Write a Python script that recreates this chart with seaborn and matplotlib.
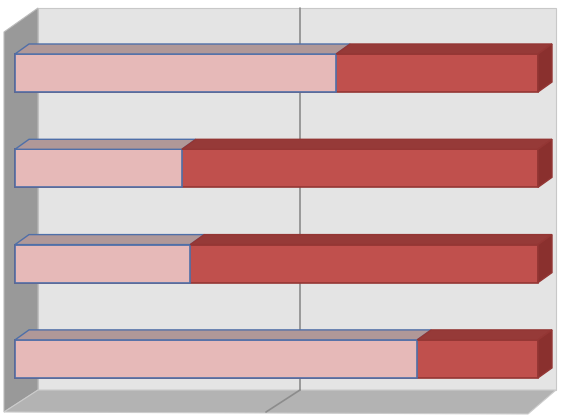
import numpy as np
import pandas as pd
import matplotlib
matplotlib.use("Agg")
import matplotlib.pyplot as plt
import seaborn as sns
from matplotlib.patches import Polygon

categories = ["A", "B", "C", "D"]
part1 = [0.614, 0.319, 0.335, 0.769]
part2 = [0.386, 0.681, 0.665, 0.231]

sns.set_theme(style="white")
fig = plt.figure(figsize=(5.7, 4.19), dpi=100)

# background walls, in pixel coords
bg = fig.add_axes([0, 0, 1, 1])
bg.set_xlim(0, 570)
bg.set_ylim(419, 0)
bg.axis("off")
bg.add_patch(Polygon([(38, 8), (556, 8), (556, 390), (38, 390)], closed=True, fc="#E4E4E4", ec="#C8C8C8", lw=0.8))
bg.add_patch(Polygon([(4, 32), (38, 8), (38, 390), (4, 412)], closed=True, fc="#999999", ec="#BBBBBB", lw=0.8))
bg.add_patch(Polygon([(4, 412), (38, 390), (556, 390), (528, 414)], closed=True, fc="#B3B3B3", ec="#CCCCCC", lw=0.8))
bg.plot([300, 300], [8, 390], color="#8C8C8C", lw=1.2)
bg.plot([300, 266], [390, 412], color="#8C8C8C", lw=1.2)

# bars
ax = fig.add_axes([0, 0, 1, 1])
ax.patch.set_alpha(0)
df = pd.DataFrame({"cat": categories, "p1": part1, "total": np.array(part1) + np.array(part2)})
h = 38 / 95.3
sns.barplot(data=df, y="cat", x="total", orient="h", color="#C0504D", width=h,
            edgecolor="#943634", linewidth=1.2, saturation=1, ax=ax)
sns.barplot(data=df, y="cat", x="p1", orient="h", color="#E6B9B8", width=h,
            edgecolor="#4F6FA8", linewidth=1.2, saturation=1, ax=ax)
ax.set_xlim(-15 / 523, 555 / 523)
ax.set_ylim((419 - 73) / 95.3, -73 / 95.3)
ax.axis("off")

dx, dy = 14 / 523, -10 / 95.3
for i, (a, b) in enumerate(zip(part1, part2)):
    top = i - h / 2
    bot = i + h / 2
    t = a + b
    # top faces
    ax.add_patch(Polygon([(0, top), (dx, top + dy), (a + dx, top + dy), (a, top)],
                         closed=True, fc="#B09898", ec="#4F6FA8", lw=1, zorder=3))
    ax.add_patch(Polygon([(a, top), (a + dx, top + dy), (t + dx, top + dy), (t, top)],
                         closed=True, fc="#963A38", ec="#943634", lw=1, zorder=3))
    # side face
    ax.add_patch(Polygon([(t, top), (t + dx, top + dy), (t + dx, bot + dy), (t, bot)],
                         closed=True, fc="#8A302E", ec="#943634", lw=1, zorder=3))

fig.savefig("out.png", dpi=100)
